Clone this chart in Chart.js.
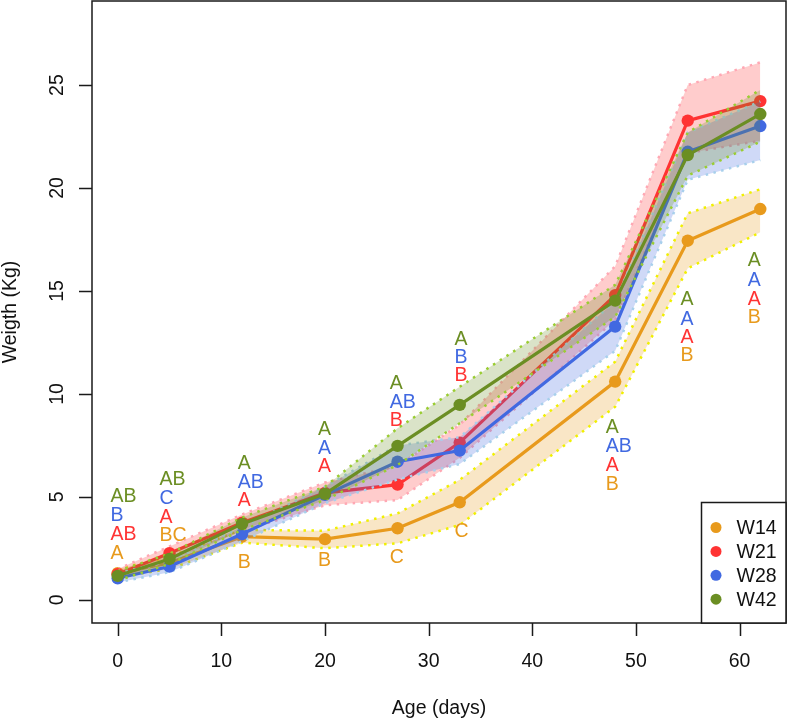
<!DOCTYPE html>
<html>
<head>
<meta charset="utf-8">
<script src="https://cdn.jsdelivr.net/npm/chart.js@4/dist/chart.umd.min.js"></script>
<style>
  body { margin: 0; background: #fff; }
</style>
</head>
<body>
<canvas id="chart" width="788" height="720"></canvas>
<script>
const ages = [0, 5, 12, 20, 27, 33, 48, 55, 62];
const seriesNames = ['W14', 'W21', 'W28', 'W42'];

const w14Mean  = [1.3, 1.8, 3.07, 2.95, 3.48, 4.74, 10.6, 17.44, 18.98];
const w14Upper = [1.5, 2.1, 3.4, 3.36, 4.2, 5.83, 11.57, 18.77, 19.94];
const w14Lower = [1.1, 1.5, 2.78, 2.51, 2.75, 3.64, 9.38, 16.1, 17.85];

const w21Mean  = [1.25, 2.27, 3.75, 5.2, 5.6, 7.64, 14.8, 23.27, 24.22];
const w21Upper = [1.5, 2.6, 4.15, 5.7, 6.5, 8.5, 16.2, 25.0, 26.1];
const w21Lower = [1.0, 1.95, 3.35, 4.6, 4.85, 6.9, 13.6, 21.7, 22.3];

const w28Mean  = [1.05, 1.62, 3.2, 5.1, 6.71, 7.25, 13.27, 21.76, 23.01];
const w28Upper = [1.3, 1.9, 3.55, 5.5, 7.5, 7.9, 14.5, 22.7, 24.2];
const w28Lower = [0.85, 1.35, 2.85, 4.7, 5.85, 6.6, 12.1, 20.4, 21.36];

const w42Mean  = [1.17, 1.99, 3.69, 5.15, 7.48, 9.47, 14.53, 21.6, 23.59];
const w42Upper = [1.4, 2.25, 4.0, 5.5, 8.33, 10.35, 15.3, 22.7, 24.76];
const w42Lower = [0.95, 1.75, 3.4, 4.85, 6.55, 8.58, 13.75, 20.6, 22.25];

// significance letters (Tukey groups) per series and age
const w14Letters = ['A', 'BC', 'B', 'B', 'C', 'C', 'B', 'B', 'B'];
const w21Letters = ['AB', 'A', 'A', 'A', 'B', 'B', 'A', 'A', 'A'];
const w28Letters = ['B', 'C', 'AB', 'A', 'AB', 'B', 'AB', 'A', 'A'];
const w42Letters = ['AB', 'AB', 'A', 'A', 'A', 'A', 'A', 'A', 'A'];
const letterX = [-0.7, 4.04, 11.59, 19.32, 26.25, 32.5, 47.1, 54.3, 60.8];
const w14LetterY = [2.3, 3.16, 1.86, 1.94, 2.1, 3.35, 5.63, 11.9, 13.75];
const w21LetterY = [3.24, 4.05, 4.85, 6.5, 8.74, 10.92, 6.55, 12.78, 14.65];
const w28LetterY = [4.13, 4.97, 5.74, 7.41, 9.63, 11.8, 7.48, 13.67, 15.57];
const w42LetterY = [5.05, 5.87, 6.68, 8.33, 10.55, 12.7, 8.41, 14.65, 16.5];

const xTicks = [0, 10, 20, 30, 40, 50, 60];
const yTicks = [0, 5, 10, 15, 20, 25];

const colors = ['#E89A1C', '#FF3333', '#4169E1', '#6B8E23'];
const bandFill = ['rgba(232,154,28,0.25)', 'rgba(255,51,51,0.25)', 'rgba(65,105,225,0.25)', 'rgba(107,142,35,0.25)'];
const bandDot = ['#F0F000', '#FFA8B4', '#A8D0EC', '#9ACD32'];

const means = [w14Mean, w21Mean, w28Mean, w42Mean];
const uppers = [w14Upper, w21Upper, w28Upper, w42Upper];
const lowers = [w14Lower, w21Lower, w28Lower, w42Lower];
const letters = [w14Letters, w21Letters, w28Letters, w42Letters];
const letterY = [w14LetterY, w21LetterY, w28LetterY, w42LetterY];

const pts = arr => arr.map((v, i) => ({ x: ages[i], y: v }));
const FONT = '19.5px "Liberation Sans", Arial, sans-serif';

const datasets = [];
let drawIdx = 0;
seriesNames.forEach((name, s) => {
  datasets.push({
    label: name + ' upper', data: pts(uppers[s]),
    borderColor: bandDot[s], borderWidth: 2.5, borderDash: [2.5, 5.5],
    backgroundColor: bandFill[s], fill: '+1', pointRadius: 0, order: 100 - drawIdx++
  });
  datasets.push({
    label: name + ' lower', data: pts(lowers[s]),
    borderColor: bandDot[s], borderWidth: 2.5, borderDash: [2.5, 5.5],
    fill: false, pointRadius: 0, order: 100 - drawIdx++
  });
  datasets.push({
    label: name, data: pts(means[s]),
    borderColor: colors[s], backgroundColor: colors[s], borderWidth: 3.2,
    pointRadius: 6.2, pointBorderWidth: 0, pointBackgroundColor: colors[s],
    fill: false, order: 100 - drawIdx++
  });
});

const decorations = {
  id: 'decorations',
  afterDatasetsDraw(chart) {
    const { ctx, chartArea: a, scales: { x, y } } = chart;
    ctx.save();
    ctx.font = FONT;

    // group letters
    ctx.textAlign = 'left';
    ctx.textBaseline = 'middle';
    seriesNames.forEach((_, s) => {
      ctx.fillStyle = colors[s];
      letters[s].forEach((t, i) => {
        ctx.fillText(t, x.getPixelForValue(letterX[i]), y.getPixelForValue(letterY[s][i]) + 1);
      });
    });

    // box
    ctx.strokeStyle = '#1a1a1a';
    ctx.lineWidth = 1.5;
    ctx.strokeRect(a.left, a.top, a.right - a.left, a.bottom - a.top);

    // ticks
    ctx.fillStyle = '#111';
    ctx.beginPath();
    xTicks.forEach(v => {
      const px = Math.round(x.getPixelForValue(v)) + 0.5;
      ctx.moveTo(px, a.bottom); ctx.lineTo(px, a.bottom + 13);
    });
    yTicks.forEach(v => {
      const py = Math.round(y.getPixelForValue(v)) + 0.5;
      ctx.moveTo(a.left, py); ctx.lineTo(a.left - 13, py);
    });
    ctx.stroke();

    ctx.textAlign = 'center';
    ctx.textBaseline = 'alphabetic';
    xTicks.forEach(v => ctx.fillText(String(v), x.getPixelForValue(v), 667));
    yTicks.forEach(v => {
      ctx.save();
      ctx.translate(63, y.getPixelForValue(v));
      ctx.rotate(-Math.PI / 2);
      ctx.fillText(String(v), 0, 0);
      ctx.restore();
    });

    // axis titles
    ctx.fillText('Age (days)', (a.left + a.right) / 2, 714);
    ctx.save();
    ctx.translate(16, (a.top + a.bottom) / 2);
    ctx.rotate(-Math.PI / 2);
    ctx.fillText('Weigth (Kg)', 0, 0);
    ctx.restore();

    // legend
    const lx = 701.5, ly = 502.5;
    ctx.fillStyle = '#fff';
    ctx.fillRect(lx, ly, a.right - lx, a.bottom - ly);
    ctx.strokeRect(lx, ly, a.right - lx, a.bottom - ly);
    ctx.textAlign = 'left';
    ctx.textBaseline = 'middle';
    seriesNames.forEach((name, s) => {
      const ey = 527.5 + s * 23.9;
      ctx.fillStyle = colors[s];
      ctx.beginPath();
      ctx.arc(716, ey, 5.5, 0, Math.PI * 2);
      ctx.fill();
      ctx.fillStyle = '#111';
      ctx.fillText(name, 736.5, ey + 1);
    });
    ctx.restore();
  }
};

new Chart(document.getElementById('chart').getContext('2d'), {
  type: 'line',
  data: { datasets },
  options: {
    responsive: false,
    animation: false,
    layout: { autoPadding: false, padding: { left: 92, top: 1, right: 2, bottom: 97 } },
    elements: { line: { tension: 0 } },
    plugins: {
      legend: { display: false },
      tooltip: { enabled: false },
      filler: { propagate: false }
    },
    scales: {
      x: { type: 'linear', min: -2.48, max: 64.48, display: false },
      y: { type: 'linear', min: -1.12, max: 29.08, display: false }
    }
  },
  plugins: [decorations]
});
</script>
</body>
</html>
